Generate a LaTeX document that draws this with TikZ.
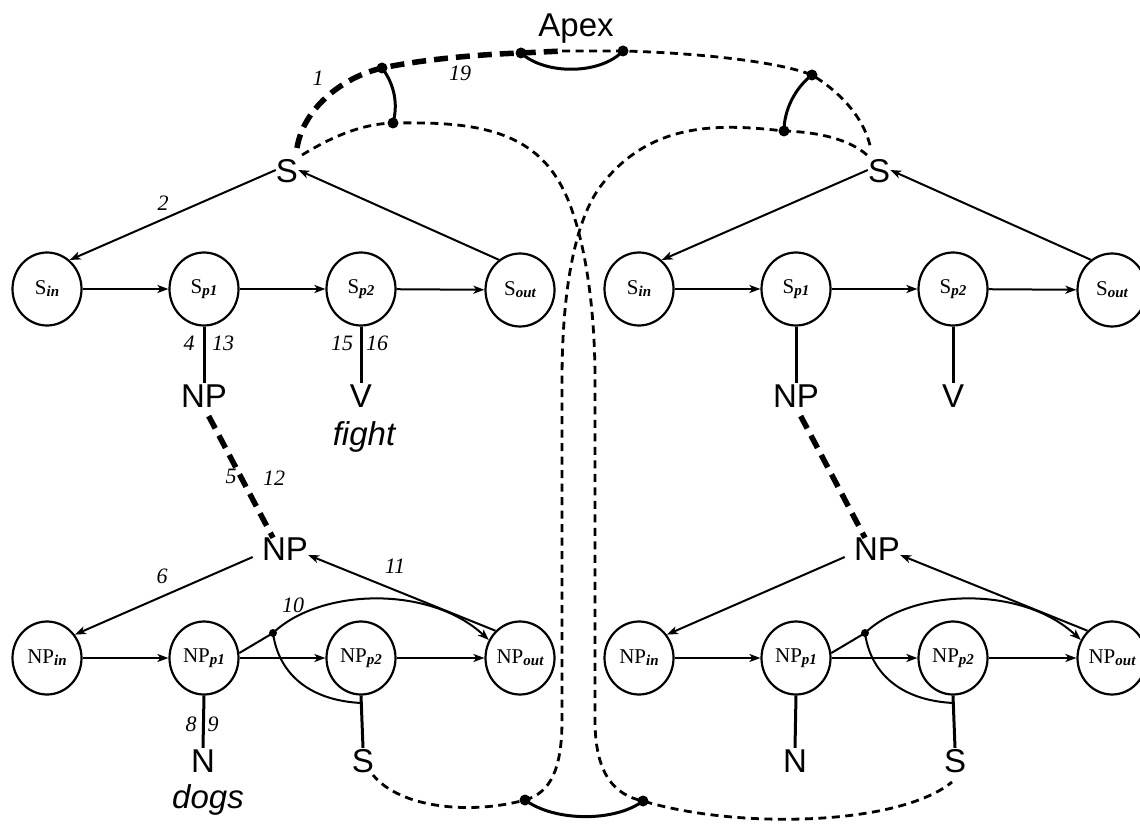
\documentclass[tikz,border=0pt]{standalone}
\usepackage{fontspec}
\setmainfont{Liberation Serif}
\newfontfamily\sansfam{Liberation Sans}
\usetikzlibrary{arrows.meta,shapes.geometric,calc}

\newcommand\bigsans{\sansfam\fontsize{33}{36}\selectfont}
\newcommand\numfont{\fontsize{22}{24}\selectfont\itshape}
\newcommand\statefont{\fontsize{21}{23}\selectfont}
\newcommand\stsub[1]{\raisebox{-2pt}{\fontsize{15}{15}\selectfont\bfseries\itshape #1}}

% One half of the network: the S net above, the NP net below
\newcommand\halfnet{%
  \node[big] (Stop) at (287,170) {S};
  \node[stnode] (Sin)  at (47,289)  {S\stsub{in}};
  \node[stnode] (Sp1)  at (204,289) {S\stsub{p1}};
  \node[stnode] (Sp2)  at (361,289) {S\stsub{p2}};
  \node[stnode] (Sout) at (520,290) {S\stsub{out}};
  \node[big] (NPa) at (204,395) {NP};
  \node[big] (V)   at (361,395) {V};
  \node[big] (NPm) at (285,548) {NP};
  \node[stnode] (NPin)  at (47,658)  {NP\stsub{in}};
  \node[stnode] (NPp1)  at (204,658) {NP\stsub{p1}};
  \node[stnode] (NPp2)  at (361,658) {NP\stsub{p2}};
  \node[stnode] (NPout) at (520,658) {NP\stsub{out}};
  \node[big] (N)  at (203,760) {N};
  \node[big] (Sb) at (363,760) {S};
  \coordinate (j) at (273,633);
  \coordinate (t) at (361,703);
  % S net
  \draw[arr] (Stop.west) -- (Sin.52);
  \draw[arr] (Sout.125) -- (Stop.east);
  \draw[arr] (Sin) -- (Sp1);
  \draw[arr] (Sp1) -- (Sp2);
  \draw[arr] (Sp2) -- (Sout);
  \draw[stem] (Sp1.south) -- (NPa.north);
  \draw[stem] (Sp2.south) -- (V.north);
  % substitution link
  \draw[thickdash, shorten <=10pt] (NPa.south) -- ($(NPm.north)+(-12,2)$);
  % NP net
  \draw[arr, shorten <=10pt] ($(NPm.west)+(0,5)$) -- (NPin.40);
  \draw[arr] (NPout.132) -- ($(NPm.east)+(0,7)$);
  \draw[arr] (NPin) -- (NPp1);
  \draw[arr] (NPp1) -- (NPp2);
  \draw[arr] (NPp2) -- (NPout);
  \draw[line width=2pt] (NPp1.8) -- (j);
  \draw[arr] (j) .. controls (320,588) and (430,585) .. (NPout.150);
  \draw[line width=2pt] (j) .. controls (278,670) and (305,700) .. (t);
  \node[smalldot] (jdot) at (j) {};
  \draw[stem] (NPp1.south) -- (N.north);
  \draw[stem] (NPp2.south) -- (Sb.north);
}

\begin{document}
\begin{tikzpicture}[x=1pt,y=-1pt,
  stnode/.style={ellipse, draw, line width=2.2pt, minimum width=69pt, minimum height=73pt, inner sep=0pt, font=\statefont},
  big/.style={font=\bigsans, inner sep=0pt, text height=24pt, text depth=0pt},
  num/.style={font=\numfont, inner sep=0pt},
  arr/.style={line width=2pt, -{Stealth[length=11pt,width=8pt,inset=3pt]}},
  stem/.style={line width=3pt},
  link/.style={line width=3pt},
  thindash/.style={line width=2.8pt, dash pattern=on 8pt off 5.5pt},
  thickdash/.style={line width=5.5pt, dash pattern=on 14pt off 8pt},
  bigdot/.style={circle, fill, inner sep=0pt, minimum size=11pt},
  smalldot/.style={circle, fill, inner sep=0pt, minimum size=8pt}]

\useasboundingbox (0,0) rectangle (1140,824);
\fill[white] (0,0) rectangle (1140,824);

\begin{scope}[name prefix=L-]
  \halfnet
\end{scope}
\begin{scope}[xshift=592pt, name prefix=R-]
  \halfnet
\end{scope}

% words and step numbers of the left tree
\node[font=\bigsans\itshape, inner sep=0pt, anchor=base] (fight) at (364,445) {fight};
\node[font=\bigsans\itshape, inner sep=0pt, anchor=base] (dogs) at (208,808) {dogs};
\node[num] (n1)  at (318,78)  {1};
\node[num] (n19) at (460,73)  {19};
\node[num] (n2)  at (163,203) {2};
\node[num] (n4)  at (189,343) {4};
\node[num] (n13) at (223,343) {13};
\node[num] (n15) at (342,343) {15};
\node[num] (n16) at (377,343) {16};
\node[num] (n5)  at (231,476) {5};
\node[num] (n12) at (274,478) {12};
\node[num] (n6)  at (162,576) {6};
\node[num] (n11) at (395,566) {11};
\node[num] (n10) at (293,605) {10};
\node[num] (n8)  at (191,724) {8};
\node[num] (n9)  at (213,724) {9};

% apex and the adjunction links
\node[big] (apex) at (576,25) {Apex};
\coordinate (a1) at (521,53);
\coordinate (a2) at (623,51);
\coordinate (mid) at (562,51);
\coordinate (l1) at (382,68);
\coordinate (l2) at (393,123);
\coordinate (r1) at (812,75);
\coordinate (r2) at (784,131);
\coordinate (b1) at (525,800);
\coordinate (b2) at (643,801);

\draw[thickdash] ($(L-Stop)+(10,-22)$) .. controls (303,110) and (340,78) .. (l1)
  .. controls (430,58) and (490,54) .. (a1) -- (mid);
\draw[thindash] (mid) -- (a2) .. controls (700,53) and (780,62) .. (r1)
  .. controls (840,92) and (865,118) .. ($(R-Stop)+(-8,-20)$);
\draw[thindash] ($(L-Stop)+(15,-15)$) .. controls (330,138) and (360,124) .. (l2)
  .. controls (460,122) and (525,125) .. (558,180)
  .. controls (580,215) and (595,290) .. (595,380) -- (595,720)
  .. controls (595,775) and (615,795) .. (b2)
  .. controls (740,830) and (900,825) .. ($(R-Sb)+(-3,22)$);
\draw[thindash] ($(R-Stop)+(-12,-15)$) .. controls (850,140) and (820,132) .. (r2)
  .. controls (722,124) and (650,120) .. (600,187)
  .. controls (575,221) and (562,290) .. (562,380) -- (562,720)
  .. controls (562,770) and (550,793) .. (b1)
  .. controls (470,815) and (400,808) .. ($(L-Sb)+(10,15)$);

\draw[link] (a1) .. controls (545,75) and (600,75) .. (a2);
\draw[link] (l1) .. controls (395,85) and (398,105) .. (l2);
\draw[link] (r1) .. controls (795,88) and (784,110) .. (r2);
\draw[link] (b1) .. controls (555,822) and (615,822) .. (b2);

\node[bigdot] (a1dot) at (a1) {};
\node[bigdot] (a2dot) at (a2) {};
\node[bigdot] (l1dot) at (l1) {};
\node[bigdot] (l2dot) at (l2) {};
\node[bigdot] (r1dot) at (r1) {};
\node[bigdot] (r2dot) at (r2) {};
\node[bigdot] (b1dot) at (b1) {};
\node[bigdot] (b2dot) at (b2) {};
\end{tikzpicture}
\end{document}
